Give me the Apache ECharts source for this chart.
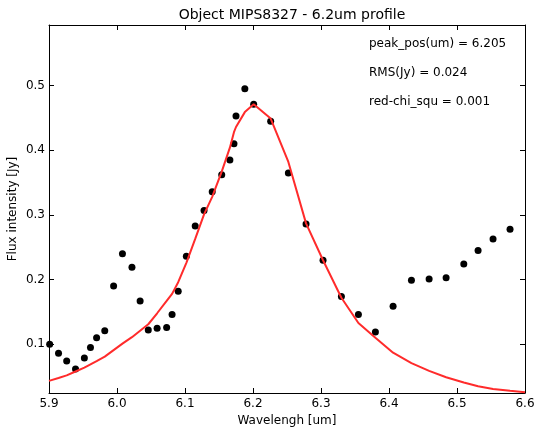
<!DOCTYPE html>
<html>
<head>
<meta charset="utf-8">
<script src="https://cdn.jsdelivr.net/npm/echarts@6/dist/echarts.min.js"></script>
<style>html,body{margin:0;padding:0;background:#fff}#c{width:536px;height:430px}</style>
</head>
<body>
<div id="c"></div>
<script>
var wavelength = [5.901,5.914,5.926,5.939,5.952,5.961,5.970,5.982,5.995,6.008,6.022,6.034,6.046,6.059,6.073,6.081,6.090,6.102,6.115,6.128,6.140,6.154,6.166,6.172,6.175,6.188,6.201,6.226,6.252,6.278,6.303,6.330,6.355,6.380,6.406,6.433,6.459,6.484,6.510,6.531,6.553,6.578];
var flux = [0.100,0.086,0.074,0.062,0.079,0.095,0.110,0.121,0.190,0.240,0.219,0.167,0.122,0.125,0.126,0.146,0.182,0.236,0.283,0.307,0.336,0.362,0.385,0.410,0.453,0.495,0.471,0.445,0.365,0.286,0.230,0.174,0.146,0.119,0.159,0.199,0.201,0.203,0.224,0.245,0.263,0.278];
var fitWave = [5.900,5.901,5.914,5.926,5.939,5.952,5.961,5.970,5.982,5.995,6.008,6.022,6.034,6.046,6.059,6.073,6.081,6.090,6.102,6.115,6.128,6.140,6.154,6.166,6.172,6.175,6.188,6.201,6.226,6.252,6.278,6.303,6.330,6.355,6.380,6.406,6.433,6.459,6.484,6.510,6.531,6.553,6.578,6.600];
var fitFlux = [0.0435,0.044,0.048,0.052,0.058,0.064,0.069,0.074,0.081,0.091,0.101,0.111,0.121,0.131,0.148,0.167,0.178,0.196,0.226,0.263,0.301,0.328,0.367,0.404,0.428,0.436,0.459,0.471,0.449,0.382,0.287,0.230,0.172,0.133,0.110,0.087,0.071,0.059,0.049,0.041,0.035,0.031,0.028,0.026];
var xTicks = [5.9,6.0,6.1,6.2,6.3,6.4,6.5,6.6];
var yTicks = [0.1,0.2,0.3,0.4,0.5];
var infoLines = ['peak_pos(um) = 6.205','RMS(Jy) = 0.024','red-chi_squ = 0.001'];

var FONT = 'DejaVu Sans';
var X_MIN = 5.9, X_MAX = 6.6, Y_MIN = 0.0247, Y_MAX = 0.5937;

function pairs(a, b){ return a.map(function(v,i){ return [v, b[i]]; }); }

var chart = echarts.init(document.getElementById('c'), null, {renderer:'canvas'});
function xAx(pos, showLabel, name){
  return {
    type:'value', position:pos, min:X_MIN, max:X_MAX,
    name: name || '', nameLocation:'middle', nameGap:22, nameMoveOverlap:false,
    nameTextStyle:{fontFamily:FONT,fontSize:12,color:'#000'},
    axisLine:{show:true,onZero:false,lineStyle:{color:'#000',width:1}},
    axisTick:{show:true,inside:true,length:5,customValues:xTicks,lineStyle:{color:'#000'}},
    axisLabel:{show:showLabel,customValues:xTicks,margin:5,fontFamily:FONT,fontSize:12,color:'#000',
      formatter:function(v){return v.toFixed(1);}},
    splitLine:{show:false}
  };
}
function yAx(pos, showLabel, name){
  return {
    type:'value', position:pos, min:Y_MIN, max:Y_MAX,
    name: name || '', nameLocation:'middle', nameGap:30, nameMoveOverlap:false,
    nameTextStyle:{fontFamily:FONT,fontSize:12,color:'#000'},
    axisLine:{show:true,onZero:false,lineStyle:{color:'#000',width:1}},
    axisTick:{show:true,inside:true,length:5,customValues:yTicks,lineStyle:{color:'#000'}},
    axisLabel:{show:showLabel,customValues:yTicks,margin:4,fontFamily:FONT,fontSize:12,color:'#000',
      formatter:function(v){return v.toFixed(1);}},
    splitLine:{show:false}
  };
}
var option = {
  animation:false,
  backgroundColor:'#fff',
  title:{text:'Object MIPS8327 - 6.2um profile', left:287, textAlign:'center', top:3,
    textStyle:{fontFamily:FONT,fontSize:14,fontWeight:'normal',color:'#000'}},
  grid:{left:49, right:11, top:25, bottom:37, containLabel:false, outerBoundsMode:'none'},
  xAxis:[xAx('bottom', true, 'Wavelengh [um]'), xAx('top', false)],
  yAxis:[yAx('left', true, 'Flux intensity [Jy]'), yAx('right', false)],
  graphic: infoLines.map(function(t,i){
    return {type:'text', left:369, top:38 + i*29, style:{text:t, font:'12px "DejaVu Sans"', fill:'#000'}};
  }),
  series:[
    {type:'scatter', data:pairs(wavelength, flux), symbol:'circle', symbolSize:7,
     itemStyle:{color:'#000', opacity:1}, z:2},
    {type:'line', data:pairs(fitWave, fitFlux), showSymbol:false, symbol:'none',
     lineStyle:{color:'#ff2b2b', width:2}, z:3, clip:true}
  ]
};
chart.setOption(option);
</script>
</body>
</html>
